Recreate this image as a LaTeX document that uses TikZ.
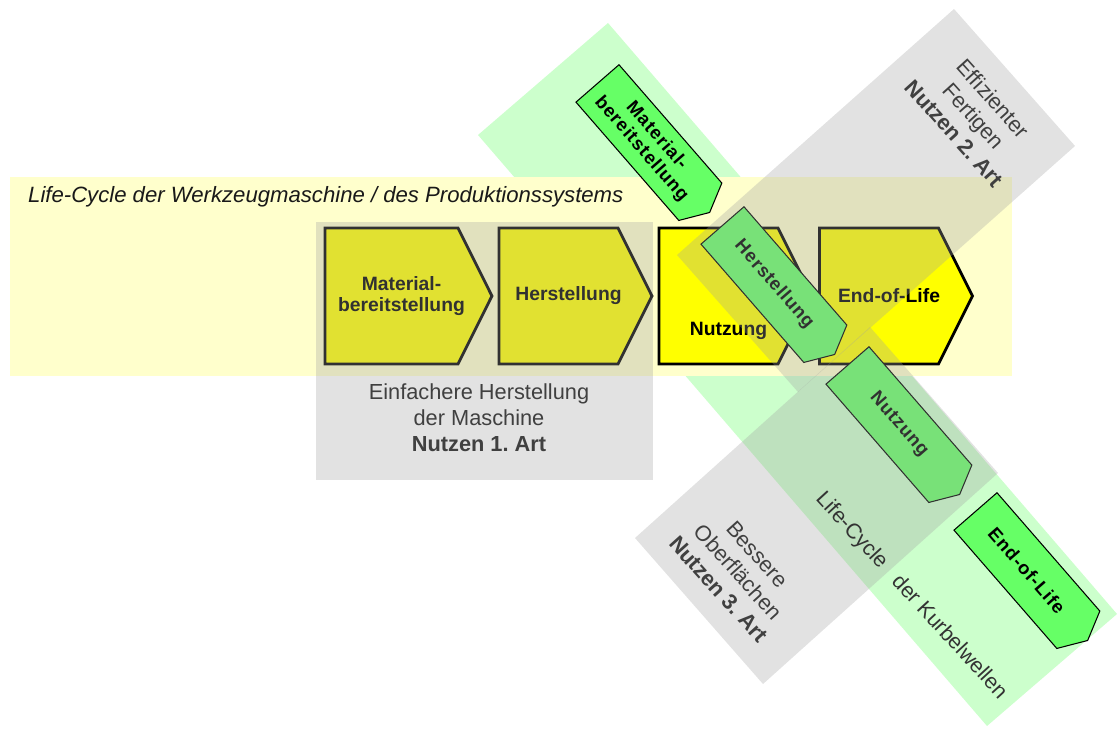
\documentclass[tikz,border=0pt]{standalone}
\usepackage{fontspec}
\setmainfont{Liberation Sans}
\frenchspacing
\usetikzlibrary{shapes.symbols}
\definecolor{bandyellow}{HTML}{FFFFCC}
\definecolor{bandgreen}{HTML}{CCFFCC}
\definecolor{stepyellow}{HTML}{FFFF00}
\definecolor{stepgreen}{HTML}{66FF66}
\definecolor{veilgray}{HTML}{A1A1A1}
\definecolor{textgray}{HTML}{404040}

\begin{document}
\begin{tikzpicture}[x=0.02cm,y=-0.02cm,
    phase/.style={shape=signal,signal to=east,signal pointer angle=127,
      draw=black,line width=1.6pt,fill=stepyellow,inner sep=0pt,
      minimum width=3.06cm,minimum height=2.72cm},
    phasetext/.style={xshift=0.2cm,align=center,font=\fontsize{11}{12}\selectfont\bfseries},
    greenphase/.style={shape=signal,signal to=east,signal pointer angle=127,
      draw=black,line width=0.6pt,fill=stepgreen,inner sep=0pt,rotate=-49,
      minimum width=3.42cm,minimum height=1.14cm,align=center,
      font=\fontsize{10.5}{11.5}\selectfont\bfseries\addfontfeature{LetterSpace=5}},
    veil/.style={fill=veilgray,fill opacity=0.31},
    benefit/.style={text=textgray,align=center,font=\fontsize{12.4}{14.8}\selectfont}]
      \useasboundingbox (0,0) rectangle (1118,733);
      % Life-Cycle der Kurbelwellen
      \fill [bandgreen] (478,135) -- (608,23) -- (1117,614) -- (987,726) -- cycle;
      % Life-Cycle der Werkzeugmaschine
      \fill [bandyellow] (10,177) rectangle (1012,376);
      \node (lcwzm) at (22,197) [anchor=west,text=black!90,font=\fontsize{12.6}{14}\selectfont\itshape] {Life-Cycle der Werkzeugmaschine / des Produktionssystems};
      \node (mat) at (391.5,296) [phase,minimum width=3.34cm,label={[phasetext]center:Material-\\bereitstellung}] {};
      \node (her) at (558.5,296) [phase,label={[phasetext]center:Herstellung}] {};
      \node (nut) at (718.5,296) [phase,label={[phasetext,yshift=-0.7cm]center:Nutzung}] {};
      \node (eol) at (879,296) [phase,label={[phasetext]center:End-of-Life}] {};
      % Kurbelwelle
      \node (gmat) at (648.9,142.6) [greenphase] {Material-\\bereitstellung};
      \node (gher) at (773.9,284.6) [greenphase] {Herstellung};
      \node (gnut) at (898.9,424.6) [greenphase] {Nutzung};
      \node (geol) at (1026.9,570.6) [greenphase] {End-of-Life};
      % Nutzen
      \fill [veil] (316,222) rectangle (653,480);
      \fill [veil] (954,9) -- (1075,146) -- (798,392) -- (677,255) -- cycle;
      \fill [veil] (635,538) -- (763,684) -- (998,473) -- (870,327) -- cycle;
      \node (nutzen1) at (479,418) [benefit] {Einfachere Herstellung\\der Maschine\\\textbf{Nutzen 1. Art}};
      \node (nutzen2) at (974,116) [benefit,rotate=-48] {Effizienter\\Fertigen\\\textbf{Nutzen 2. Art}};
      \node (nutzen3) at (738,572) [benefit,rotate=-48] {Bessere\\Oberflächen\\\textbf{Nutzen 3. Art}};
      \node (lckw) at (911,596) [rotate=-47.5,text=black!80,font=\fontsize{12.2}{14}\selectfont] {Life-Cycle\hspace{0.8em}der Kurbelwellen};
    \end{tikzpicture}
\end{document}
